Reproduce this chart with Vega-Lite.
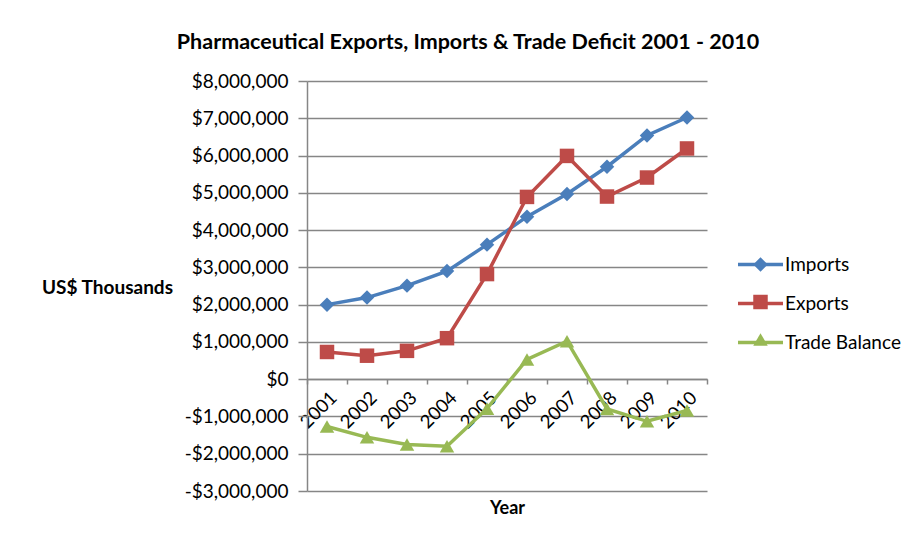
{
  "$schema": "https://vega.github.io/schema/vega-lite/v6.json",
  "width": 400,
  "height": 410,
  "autosize": {"type": "none"},
  "padding": {"left": 307, "top": 81, "right": 213, "bottom": 49},
  "background": "white",
  "config": {"view": {"stroke": null}, "font": "Lato"},
  "title": {"text": "Pharmaceutical Exports, Imports & Trade Deficit 2001 - 2010", "font": "Lato", "fontSize": 21.5, "fontWeight": "bold", "color": "#000000", "dx": -39, "offset": 19},
  "data": {"values": [
    {"year": "2001", "series": "Imports", "value": 2000000},
    {"year": "2002", "series": "Imports", "value": 2190000},
    {"year": "2003", "series": "Imports", "value": 2510000},
    {"year": "2004", "series": "Imports", "value": 2900000},
    {"year": "2005", "series": "Imports", "value": 3610000},
    {"year": "2006", "series": "Imports", "value": 4360000},
    {"year": "2007", "series": "Imports", "value": 4970000},
    {"year": "2008", "series": "Imports", "value": 5700000},
    {"year": "2009", "series": "Imports", "value": 6540000},
    {"year": "2010", "series": "Imports", "value": 7020000},
    {"year": "2001", "series": "Exports", "value": 730000},
    {"year": "2002", "series": "Exports", "value": 630000},
    {"year": "2003", "series": "Exports", "value": 760000},
    {"year": "2004", "series": "Exports", "value": 1100000},
    {"year": "2005", "series": "Exports", "value": 2820000},
    {"year": "2006", "series": "Exports", "value": 4890000},
    {"year": "2007", "series": "Exports", "value": 5990000},
    {"year": "2008", "series": "Exports", "value": 4900000},
    {"year": "2009", "series": "Exports", "value": 5410000},
    {"year": "2010", "series": "Exports", "value": 6190000},
    {"year": "2001", "series": "Trade Balance", "value": -1270000},
    {"year": "2002", "series": "Trade Balance", "value": -1560000},
    {"year": "2003", "series": "Trade Balance", "value": -1750000},
    {"year": "2004", "series": "Trade Balance", "value": -1800000},
    {"year": "2005", "series": "Trade Balance", "value": -790000},
    {"year": "2006", "series": "Trade Balance", "value": 530000},
    {"year": "2007", "series": "Trade Balance", "value": 1020000},
    {"year": "2008", "series": "Trade Balance", "value": -800000},
    {"year": "2009", "series": "Trade Balance", "value": -1130000},
    {"year": "2010", "series": "Trade Balance", "value": -840000}
  ]},
  "encoding": {
    "x": {
      "field": "year", "type": "ordinal", "bandPosition": 0.5,
      "scale": {"type": "band", "paddingInner": 0, "paddingOuter": 0},
      "axis": {
        "orient": "bottom", "offset": -112, "grid": false,
        "domainColor": "#868686", "domainWidth": 1.5,
        "tickBand": "extent", "tickColor": "#868686", "tickWidth": 1.5, "tickSize": 5,
        "labelAngle": -45, "labelFont": "Lato", "labelFontSize": 18.5, "labelColor": "#000000", "labelPadding": 4,
        "title": "Year", "titleFont": "Lato", "titleFontSize": 18, "titleFontWeight": "bold", "titleColor": "#000000",
        "titleY": 129, "titleBaseline": "middle"
      }
    },
    "y": {
      "field": "value", "type": "quantitative",
      "scale": {"domain": [-3000000, 8000000], "nice": false, "zero": false},
      "axis": {
        "tickCount": 11, "grid": true, "gridColor": "#868686", "gridWidth": 1.5,
        "domainColor": "#868686", "domainWidth": 1.5,
        "tickColor": "#868686", "tickWidth": 1.5, "tickSize": 9,
        "labelFont": "Lato", "labelFontSize": 19, "labelColor": "#000000", "labelPadding": 10,
        "labelExpr": "datum.value < 0 ? '-$' + format(-datum.value, ',') : '$' + format(datum.value, ',')",
        "title": "US$ Thousands", "titleFont": "Lato", "titleFontSize": 19, "titleFontWeight": "bold", "titleColor": "#000000",
        "titleAngle": 0, "titleX": -200, "titleY": 206, "titleAlign": "center", "titleBaseline": "middle"
      }
    }
  },
  "layer": [
    {
      "mark": {"type": "line", "strokeWidth": 3.5},
      "encoding": {
        "stroke": {
          "field": "series", "type": "nominal", "sort": ["Imports", "Exports", "Trade Balance"],
          "scale": {"range": ["#4A7EBB", "#BE4B48", "#98B954"]},
          "legend": {
            "orient": "none", "legendX": 429, "legendY": 159, "title": null, "padding": 0,
            "symbolType": "stroke", "symbolSize": 2025, "symbolStrokeWidth": 3.5,
            "labelFont": "Lato", "labelFontSize": 19, "labelColor": "#000000", "labelOffset": 0,
            "rowPadding": 4
          }
        }
      }
    },
    {
      "mark": {"type": "point", "filled": true, "opacity": 1, "size": 210},
      "encoding": {
        "color": {
          "field": "series", "type": "nominal",
          "scale": {"domain": ["Imports", "Exports", "Trade Balance"], "range": ["#4A7EBB", "#BE4B48", "#98B954"]},
          "legend": {
            "orient": "none", "legendX": 444, "legendY": 174, "title": null, "padding": 0,
            "symbolSize": 210, "symbolOpacity": 1, "symbolStrokeWidth": 0,
            "labelFont": "Lato", "labelFontSize": 19, "labelExpr": "''", "labelOffset": 3,
            "rowPadding": 17.5
          }
        },
        "shape": {
          "field": "series", "type": "nominal",
          "scale": {"domain": ["Imports", "Exports", "Trade Balance"], "range": ["diamond", "square", "triangle-up"]},
          "legend": {
            "orient": "none", "legendX": 444, "legendY": 174, "title": null, "padding": 0,
            "symbolSize": 210, "symbolOpacity": 1, "symbolStrokeWidth": 0,
            "labelFont": "Lato", "labelFontSize": 19, "labelExpr": "''", "labelOffset": 3,
            "rowPadding": 17.5
          }
        }
      }
    }
  ]
}
